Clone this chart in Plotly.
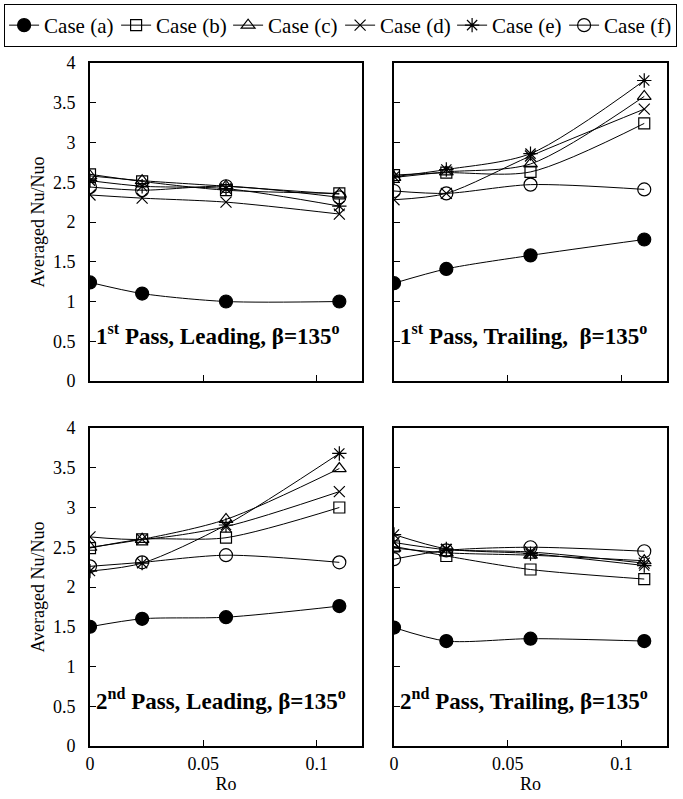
import plotly.graph_objects as go

ro = [0, 0.023, 0.06, 0.11]
cases = ["Case (a)", "Case (b)", "Case (c)", "Case (d)", "Case (e)", "Case (f)"]

# 1st pass, leading
p1_lead = {
    "Case (a)": [1.24, 1.10, 1.00, 1.00],
    "Case (b)": [2.60, 2.51, 2.40, 2.36],
    "Case (c)": [2.58, 2.52, 2.45, 2.35],
    "Case (d)": [2.34, 2.30, 2.25, 2.10],
    "Case (e)": [2.52, 2.45, 2.42, 2.20],
    "Case (f)": [2.44, 2.40, 2.45, 2.31],
}
# 1st pass, trailing
p1_trail = {
    "Case (a)": [1.23, 1.41, 1.58, 1.78],
    "Case (b)": [2.59, 2.62, 2.63, 3.24],
    "Case (c)": [2.56, 2.63, 2.73, 3.58],
    "Case (d)": [2.28, 2.36, 2.83, 3.42],
    "Case (e)": [2.57, 2.66, 2.86, 3.78],
    "Case (f)": [2.39, 2.36, 2.47, 2.41],
}
# 2nd pass, leading
p2_lead = {
    "Case (a)": [1.50, 1.60, 1.62, 1.76],
    "Case (b)": [2.49, 2.60, 2.62, 3.00],
    "Case (c)": [2.50, 2.60, 2.85, 3.49],
    "Case (d)": [2.63, 2.60, 2.76, 3.20],
    "Case (e)": [2.20, 2.30, 2.78, 3.68],
    "Case (f)": [2.26, 2.31, 2.40, 2.31],
}
# 2nd pass, trailing
p2_trail = {
    "Case (a)": [1.49, 1.32, 1.35, 1.32],
    "Case (b)": [2.51, 2.39, 2.22, 2.10],
    "Case (c)": [2.49, 2.43, 2.40, 2.33],
    "Case (d)": [2.56, 2.47, 2.44, 2.30],
    "Case (e)": [2.66, 2.48, 2.42, 2.27],
    "Case (f)": [2.35, 2.46, 2.50, 2.45],
}

panel_titles = [
    "<b>1<sup>st</sup> Pass, Leading, β=135<sup>o</sup></b>",
    "<b>1<sup>st</sup> Pass, Trailing,  β=135<sup>o</sup></b>",
    "<b>2<sup>nd</sup> Pass, Leading, β=135<sup>o</sup></b>",
    "<b>2<sup>nd</sup> Pass, Trailing, β=135<sup>o</sup></b>",
]

symbols = {
    "Case (a)": "circle",
    "Case (b)": "square-open",
    "Case (c)": "triangle-up-open",
    "Case (d)": "x-thin-open",
    "Case (e)": "asterisk-open",
    "Case (f)": "circle-open",
}
sizes = {
    "Case (a)": 13, "Case (b)": 11, "Case (c)": 12,
    "Case (d)": 11, "Case (e)": 12, "Case (f)": 13,
}

FONT = "Liberation Serif, Times New Roman, serif"
W, H = 683, 799

xdom = [[90 / W, 362 / W], [394 / W, 667 / W]]
ydom = [[1 - 381 / H, 1 - 63 / H], [1 - 746 / H, 1 - 428 / H]]

fig = go.Figure()
panels = [p1_lead, p1_trail, p2_lead, p2_trail]
for i, pdata in enumerate(panels):
    ax = "" if i == 0 else str(i + 1)
    for c in cases:
        fig.add_trace(go.Scatter(
            x=ro, y=pdata[c], name=c, mode="lines+markers",
            xaxis="x" + ax, yaxis="y" + ax,
            showlegend=(i == 0), legendgroup=c,
            line=dict(color="black", width=1, shape="spline", smoothing=0.8),
            marker=dict(symbol=symbols[c], size=sizes[c], color="black",
                        line=dict(color="black", width=1.2)),
        ))

layout = dict(
    width=W, height=H,
    margin=dict(l=0, r=0, t=0, b=0, autoexpand=False),
    paper_bgcolor="white", plot_bgcolor="white",
    font=dict(family=FONT, size=18, color="black"),
    showlegend=True,
    legend=dict(orientation="h", x=0.006, y=0.995, xanchor="left", yanchor="top",
                bordercolor="black", borderwidth=1, font=dict(size=21, family=FONT),
                itemwidth=30, tracegroupgap=0, bgcolor="white",
                entrywidth=67, entrywidthmode="pixels"),
)

for i in range(4):
    ax = "" if i == 0 else str(i + 1)
    col = i % 2
    row = i // 2
    xa = dict(domain=xdom[col], range=[0, 0.12], tickvals=[0, 0.05, 0.1],
              ticktext=["0", "0.05", "0.1"], ticks="inside", ticklen=6,
              tickcolor="black", showline=True, linecolor="black", linewidth=2,
              mirror=True, showgrid=False, zeroline=False, automargin=False,
              showticklabels=(row == 1), anchor="y" + ax,
              tickfont=dict(size=18, family=FONT))
    if row == 1:
        xa["title"] = dict(text="Ro", font=dict(size=18, family=FONT), standoff=2)
    ya = dict(domain=ydom[row], range=[0, 4], dtick=0.5, tick0=0,
              ticks="inside", ticklen=6, tickcolor="black",
              showline=True, linecolor="black", linewidth=2, mirror=True,
              showgrid=False, zeroline=False, showticklabels=(col == 0),
              automargin=False, ticklabelstandoff=9,
              anchor="x" + ax, tickfont=dict(size=18, family=FONT))
    if col == 0:
        ya["title"] = dict(text="Averaged Nu/Nuo", font=dict(size=18, family=FONT), standoff=4)
    layout["xaxis" + ax] = xa
    layout["yaxis" + ax] = ya

fig.update_layout(**layout)

for i, t in enumerate(panel_titles):
    ax = "" if i == 0 else str(i + 1)
    fig.add_annotation(text=t, xref="x" + ax + " domain", yref="y" + ax + " domain",
                       x=0.015, y=0.145, xanchor="left", yanchor="middle",
                       showarrow=False, font=dict(size=23, family=FONT, color="black"))

fig.write_html("out.html", config={"displayModeBar": False},
               post_script="document.body.style.margin='0';")
